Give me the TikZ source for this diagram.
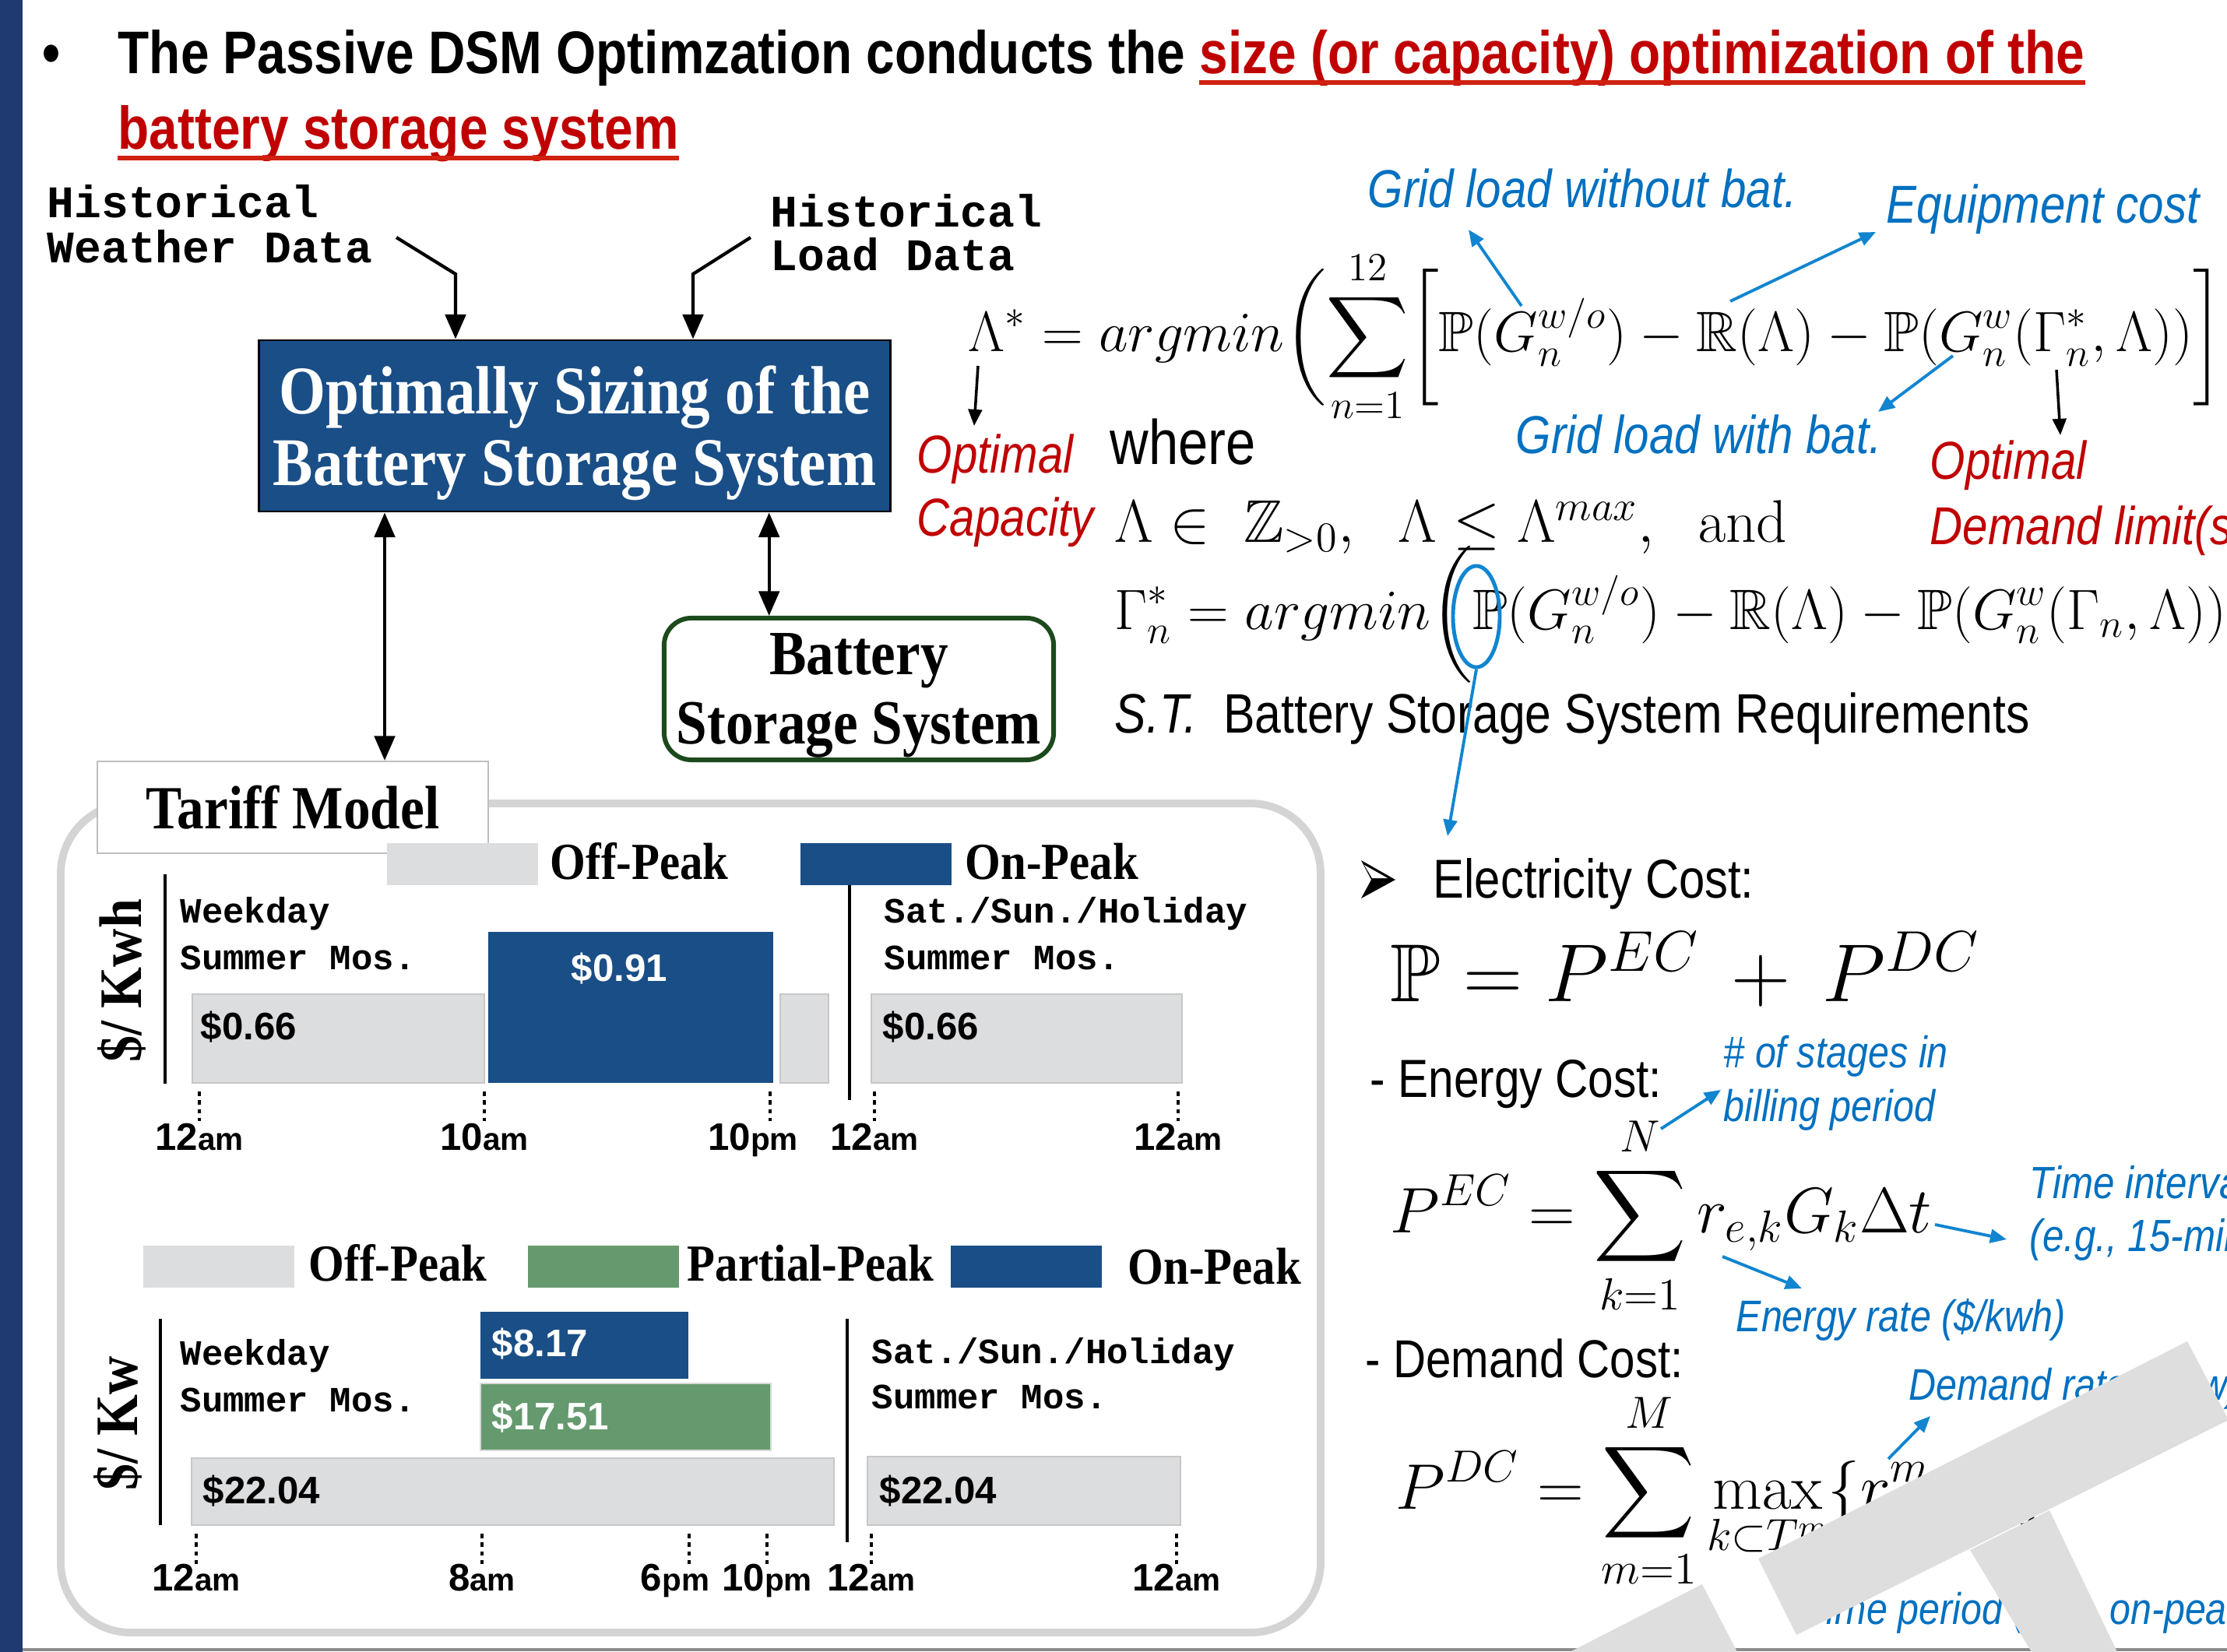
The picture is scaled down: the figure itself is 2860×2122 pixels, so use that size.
\RequirePackage{fix-cm}
\documentclass[tikz,border=0pt]{standalone}
\usepackage{amsmath,amssymb}
\usepackage[no-math]{fontspec}
\setmainfont{Liberation Serif}
\newfontfamily\narrowsans[FakeStretch=0.85]{Liberation Sans}
\newfontfamily\plainsans{Liberation Sans}
\newfontfamily\narrowserif[FakeStretch=0.88]{Liberation Serif}
\newfontfamily\typew{Liberation Mono}
\usetikzlibrary{arrows.meta, calc, positioning, shapes.geometric}
\newcommand{\fsz}[1]{\fontsize{#1}{#1}\selectfont}
\definecolor{slidenavy}{RGB}{31,58,112}
\definecolor{boxblue}{RGB}{26,78,134}
\definecolor{bargray}{RGB}{220,221,223}
\definecolor{bargreen}{RGB}{101,154,110}
\definecolor{annblue}{RGB}{0,112,192}
\definecolor{arrblue}{RGB}{17,133,208}
\definecolor{annred}{RGB}{192,0,0}
\definecolor{titlered}{RGB}{192,0,0}
\definecolor{linered}{RGB}{208,32,16}
\definecolor{bssgreen}{RGB}{28,74,28}
\definecolor{markgray}{RGB}{222,222,222}
\tikzstyle{txt}=[inner sep=0pt, anchor=base west]
\tikzstyle{titletxt}=[txt, font=\narrowsans\bfseries\fsz{22}]
\tikzstyle{titleline}=[linered, line width=1.7pt]
\tikzstyle{datatxt}=[txt, font=\typew\bfseries\fsz{16.5}]
\tikzstyle{daytxt}=[txt, font=\typew\bfseries\fsz{13}]
\tikzstyle{optbox}=[draw=black, line width=0.8pt, fill=boxblue, inner sep=0pt, minimum width=8.1cm, minimum height=2.2cm]
\tikzstyle{optlbl}=[text=white, align=center, inner sep=0pt, font=\narrowserif\bfseries\fontsize{24.9}{26.2}\selectfont]
\tikzstyle{bssbox}=[draw=bssgreen, line width=1.7pt, rounded corners=0.35cm, inner sep=0pt, minimum width=5cm, minimum height=1.82cm]
\tikzstyle{bsslbl}=[align=center, inner sep=0pt, font=\narrowserif\bfseries\fontsize{23}{25.3}\selectfont]
\tikzstyle{flowarr}=[line width=1.2pt, -{Triangle[length=9pt,width=7.5pt]}]
\tikzstyle{bothways}=[line width=1.2pt, {Triangle[length=9pt,width=7.5pt]}-{Triangle[length=9pt,width=7.5pt]}]
\tikzstyle{legtxt}=[txt, font=\narrowserif\bfseries\fsz{19}]
\tikzstyle{swatch}=[inner sep=0pt, minimum width=1.94cm, minimum height=0.54cm]
\tikzstyle{barg}=[fill=bargray, draw=black!22, line width=0.5pt]
\tikzstyle{barb}=[fill=boxblue]
\tikzstyle{barv}=[fill=bargreen, draw=black!15, line width=0.5pt]
\tikzstyle{pricetxt}=[txt, font=\plainsans\bfseries\fsz{14}]
\tikzstyle{ticktxt}=[inner sep=0pt, anchor=base, font=\plainsans\bfseries]
\tikzstyle{tickline}=[line width=0.9pt, dash pattern=on 1.6pt off 1.6pt]
\tikzstyle{axisline}=[line width=1.3pt]
\tikzstyle{annblue}=[txt, text=annblue, font=\narrowsans\itshape\fsz{19.5}]
\tikzstyle{annsmall}=[txt, text=annblue, font=\narrowsans\itshape\fsz{16.2}]
\tikzstyle{annred}=[txt, text=annred, font=\narrowsans\itshape\fsz{19.5}]
\tikzstyle{bodytxt}=[txt, font=\narrowsans\fsz{20}]
\tikzstyle{bluearr}=[arrblue, line width=1.1pt, -{Triangle[length=6pt,width=5pt]}]
\tikzstyle{redarr}=[annred, line width=1pt, -{Triangle[length=6pt,width=5pt]}]

\begin{document}
\begin{tikzpicture}[x=0.01cm, y=-0.01cm]
\useasboundingbox (0,0) rectangle (2860,2122);
\fill[white] (0,0) rectangle (2860,2122);
\fill[slidenavy] (0,0) rectangle (29,2122);
\draw[black!45, line width=0.9pt] (29,2119) -- (2860,2119);

% title
\node[titletxt] (dot) at (54,95) {\textbullet};
\node[titletxt] (ttl1) at (151,95) {The Passive DSM Optimzation conducts the};
\node[titletxt, text=titlered] (ttl1r) at ([xshift=5pt]ttl1.base east) {size (or capacity) optimization of the};
\node[titletxt, text=titlered] (ttl2) at (151,192) {battery storage system};
\draw[titleline] ([yshift=-3.1pt]ttl1r.base west) -- ([yshift=-3.1pt]ttl1r.base east);
\draw[titleline] ([yshift=-3.1pt]ttl2.base west) -- ([yshift=-3.1pt]ttl2.base east);

% inputs and sizing blocks
\node[datatxt] (hw1) at (60,280) {Historical};
\node[datatxt] (hw2) at (60,338) {Weather Data};
\node[datatxt] (hl1) at (989,292) {Historical};
\node[datatxt] (hl2) at (989,348) {Load Data};
\node[optbox] (opt) at (738,547) {};
\node[optlbl] (optl) at (738,556) {Optimally Sizing of the\\Battery Storage System};
\node[bssbox] (bss) at (1103,885) {};
\node[bsslbl] (bssl) at (1103,893) {Battery\\Storage System};

% tariff panel
\draw[black!17, line width=2.8pt, rounded corners=0.9cm] (78,1032) rectangle (1696,2097);
\node[draw=black!25, fill=white, line width=0.6pt, inner sep=0pt, minimum width=5.01cm, minimum height=1.18cm, font=\narrowserif\bfseries\fsz{22.4}] (tariff) at (376,1037) {Tariff Model};

\coordinate (w0) at (509,305); \coordinate (w1) at (585,352);
\draw[flowarr] (w0) -- (w1) -- (w1 |- opt.north);
\coordinate (l0) at (964,305); \coordinate (l1) at (890,352);
\draw[flowarr] (l0) -- (l1) -- (l1 |- opt.north);
\coordinate (dl) at ($(opt.south west)!0.2!(opt.south east)$);
\draw[bothways] (dl) -- (dl |- tariff.north);
\coordinate (dr) at ($(opt.south west)!0.807!(opt.south east)$);
\draw[bothways] (dr) -- (dr |- bss.north);

% energy rates
\node[swatch, fill=bargray] (sw1) at (594,1110) {};
\node[legtxt] (lg1) at (706,1129) {Off-Peak};
\node[swatch, fill=boxblue] (sw2) at (1125,1110) {};
\node[legtxt] (lg2) at (1239,1129) {On-Peak};
\draw[axisline] (212,1123) -- (212,1392);
\draw[axisline] (1091,1137) -- (1091,1413);
\node[rotate=90, inner sep=0pt, font=\narrowserif\bfseries\fsz{22}] (ykwh) at (156,1260) {\$/ Kwh};
\node[daytxt] (wd1) at (231,1185) {Weekday};
\node[daytxt] (sm1) at (231,1245) {Summer Mos.};
\node[daytxt] (we1) at (1135,1185) {Sat./Sun./Holiday};
\node[daytxt] (sm2) at (1135,1245) {Summer Mos.};
\filldraw[barg] (247,1277) rectangle (622,1391);
\fill[barb] (627,1197) rectangle (993,1391);
\filldraw[barg] (1002,1277) rectangle (1064,1391);
\filldraw[barg] (1119,1277) rectangle (1518,1391);
\node[pricetxt] (p1) at (257,1335) {\$0.66};
\node[pricetxt, text=white] (p2) at (733,1260) {\$0.91};
\node[pricetxt] (p3) at (1133,1335) {\$0.66};
\foreach \x/\d/\h/\s in {256/0/12/am, 622/0/10/am, 989/-22/10/pm, 1123/0/12/am, 1513/0/12/am}{
  \draw[tickline] (\x,1402) -- (\x,1440);
  \node[ticktxt] (ta\x) at (\x+\d,1477) {\fsz{14}\h\fsz{11.5}\s};
}

% demand rates
\node[swatch, fill=bargray] (sw3) at (281,1627) {};
\node[legtxt] (lg3) at (396,1645) {Off-Peak};
\node[swatch, fill=bargreen] (sw4) at (775,1627) {};
\node[legtxt] (lg4) at (882,1645) {Partial-Peak};
\node[swatch, fill=boxblue] (sw5) at (1318,1627) {};
\node[legtxt] (lg5) at (1448,1649) {On-Peak};
\draw[axisline] (206,1694) -- (206,1959);
\draw[axisline] (1088,1694) -- (1088,1981);
\node[rotate=90, inner sep=0pt, font=\narrowserif\bfseries\fsz{22}] (ykw) at (151,1828) {\$/ Kw};
\node[daytxt] (wd2) at (231,1753) {Weekday};
\node[daytxt] (sm3) at (231,1813) {Summer Mos.};
\node[daytxt] (we2) at (1119,1751) {Sat./Sun./Holiday};
\node[daytxt] (sm4) at (1119,1809) {Summer Mos.};
\fill[barb] (617,1685) rectangle (884,1771);
\filldraw[barv] (617,1777) rectangle (990,1863);
\filldraw[barg] (246,1873) rectangle (1071,1959);
\filldraw[barg] (1114,1871) rectangle (1516,1959);
\node[pricetxt, text=white] (p4) at (631,1742) {\$8.17};
\node[pricetxt, text=white] (p5) at (631,1836) {\$17.51};
\node[pricetxt] (p6) at (260,1931) {\$22.04};
\node[pricetxt] (p7) at (1129,1931) {\$22.04};
\foreach \x/\d/\h/\s in {252/0/12/am, 619/0/8/am, 885/-18/6/pm, 985/0/10/pm, 1119/0/12/am, 1511/0/12/am}{
  \draw[tickline] (\x,1970) -- (\x,2010);
  \node[ticktxt] (tb\x) at (\x+\d,2043) {\fsz{14}\h\fsz{11.5}\s};
}

% sizing problem
\node[txt, font=\fsz{20.8}] (eqA) at (1243,452) {$\displaystyle \Lambda^{*} = argmin\biggl(\sum_{n=1}^{12}\biggl[\mathbb{P}(G_n^{w/o}) - \mathbb{R}(\Lambda) - \mathbb{P}(G_n^{w}(\Gamma_n^{*},\Lambda))\biggr]$};
\node[txt, font=\narrowsans\fsz{23}] (where) at (1425,597) {where};
\node[txt, font=\fsz{22}] (eqB) at (1431,697) {$\Lambda \in\; \mathbb{Z}_{>0},\;\; \Lambda \leq \Lambda^{max},\;\; \mathrm{and}$};
\node[txt, font=\fsz{20.8}] (eqC) at (1431,808) {$\displaystyle \Gamma_n^{*} = argmin\biggl(\mathbb{P}(G_n^{w/o}) - \mathbb{R}(\Lambda) - \mathbb{P}(G_n^{w}(\Gamma_n,\Lambda))\biggr)$};
\node[txt, font=\narrowsans\fsz{20.3}] (st) at (1431,941) {\textit{S.T.}\ \ Battery Storage System Requirements};
\node[annred] (opc1) at (1177,608) {Optimal};
\node[annred] (opc2) at (1177,689) {Capacity};
\node[annred] (opd1) at (2478,616) {Optimal};
\node[annred] (opd2) at (2478,700) {Demand limit(s)};
\node[annblue] (glwo) at (1756,267) {Grid load without bat.};
\node[annblue] (eqc) at (2422,287) {Equipment cost};
\node[annblue] (glw) at (1946,583) {Grid load with bat.};
\coordinate (lamS) at (1256,470); \coordinate (lamE) at (1251,547);
\draw[redarr] (lamS) -- (lamE);
\coordinate (gamS) at (2641,475); \coordinate (gamE) at (2646,559);
\draw[redarr] (gamS) -- (gamE);
\coordinate (woS) at (1954,393); \coordinate (woE) at (1886,295);
\draw[bluearr] (woS) -- (woE);
\coordinate (rS) at (2222,387); \coordinate (rE) at (2409,298);
\draw[bluearr] (rS) -- (rE);
\coordinate (wS) at (2508,457); \coordinate (wE) at (2412,529);
\draw[bluearr] (wS) -- (wE);
\node[draw=arrblue, line width=1.4pt, ellipse, inner sep=0pt, minimum width=0.6cm, minimum height=1.3cm] (ringP) at (1896,792) {};
\coordinate (ringE) at (1859,1074);
\draw[bluearr] (ringP.south) -- (ringE);

% electricity cost
\fill[black] (1748,1105) -- (1792,1130) -- (1748,1154) -- (1761,1130) -- cycle;
\fill[white] (1752,1111) -- (1782,1128) -- (1762,1128) -- cycle;
\node[bodytxt] (elc) at (1840,1153) {Electricity Cost:};
\node[txt, font=\fsz{30}] (eqP) at (1785,1286) {$\mathbb{P} = P^{EC} \,+\, P^{DC}$};
\node[txt, font=\narrowsans\fsz{19.6}] (enc) at (1759,1409) {- Energy Cost:};
\node[annsmall] (stg1) at (2213,1371) {\# of stages in};
\node[annsmall] (stg2) at (2213,1440) {billing period};
\node[txt, font=\fsz{23.5}] (eqE) at (1785,1583) {$\displaystyle P^{EC} = \sum_{k=1}^{N} r_{e,k}G_k\Delta t$};
\node[annsmall, font=\narrowsans\itshape\fsz{16.5}] (tiv1) at (2606,1539) {Time interval};
\node[annsmall, font=\narrowsans\itshape\fsz{16.5}] (tiv2) at (2606,1607) {(e.g., 15-min)};
\node[annsmall] (erate) at (2229,1710) {Energy rate (\$/kwh)};
\node[txt, font=\narrowsans\fsz{19.5}] (dmc) at (1753,1769) {- Demand Cost:};
\node[txt, font=\fsz{23.5}] (eqD) at (1792,1938) {$\displaystyle P^{DC} = \sum_{m=1}^{M}\max_{k\subset T^m}\{r^{m}_{d}\,G_{k}\}$};
\node[annsmall] (drate) at (2451,1798) {Demand rate (\$/kw)};
\node[annsmall] (tper) at (2316,2086) {Time period (e.g., on-peak)};
\coordinate (nS) at (2133,1450); \coordinate (nE) at (2210,1400);
\draw[bluearr] (nS) -- (nE);
\coordinate (dtS) at (2485,1573); \coordinate (dtE) at (2577,1592);
\draw[bluearr] (dtS) -- (dtE);
\coordinate (reS) at (2212,1614); \coordinate (reE) at (2314,1655);
\draw[bluearr] (reS) -- (reE);
\coordinate (rmS) at (2425,1874); \coordinate (rmE) at (2479,1819);
\draw[bluearr] (rmS) -- (rmE);

% grey mark over the corner
\fill[markgray] (2258,2002) -- (2809,1723) -- (2862,1824) -- (2307,2100) -- cycle;
\fill[markgray] (2530,1991) -- (2632,1940) -- (2719,2122) -- (2609,2122) -- cycle;
\fill[markgray] (2016,2122) -- (2186,2035) -- (2231,2122) -- cycle;
\end{tikzpicture}
\end{document}
